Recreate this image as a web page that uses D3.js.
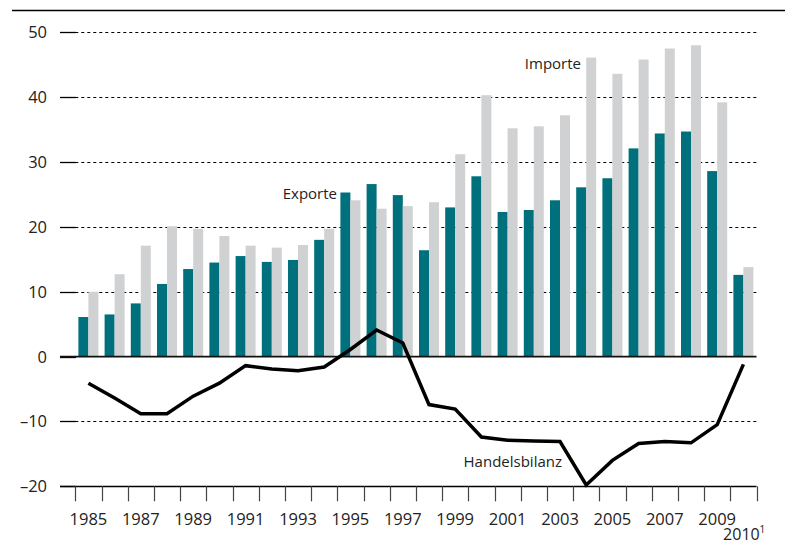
<!DOCTYPE html>
<html>
<head>
<meta charset="utf-8">
<script src="https://cdn.jsdelivr.net/npm/d3@7"></script>
<style>
  body { margin: 0; background: #fff; }
  text { font-family: "Open Sans", "Liberation Sans", sans-serif; fill: #222; }
</style>
</head>
<body>
<div id="chart"></div>
<script>
// data, Mrd.
var years = [1985, 1986, 1987, 1988, 1989, 1990, 1991, 1992, 1993, 1994, 1995, 1996, 1997,
             1998, 1999, 2000, 2001, 2002, 2003, 2004, 2005, 2006, 2007, 2008, 2009, 2010];
var exporte = [6.1, 6.5, 8.2, 11.2, 13.5, 14.5, 15.5, 14.6, 14.9, 18.0, 25.3, 26.6, 24.9,
               16.4, 23.0, 27.8, 22.3, 22.6, 24.1, 26.1, 27.5, 32.1, 34.4, 34.7, 28.6, 12.6];
var importe = [10.0, 12.7, 17.1, 20.1, 19.7, 18.6, 17.1, 16.8, 17.2, 19.7, 24.1, 22.8, 23.2,
               23.8, 31.2, 40.3, 35.2, 35.5, 37.2, 46.1, 43.6, 45.8, 47.5, 48.0, 39.2, 13.8];
var bilanz = [-4.1, -6.4, -8.8, -8.8, -6.1, -4.1, -1.4, -1.9, -2.2, -1.6, 1.1, 4.1, 2.1,
              -7.4, -8.1, -12.4, -12.9, -13.0, -13.1, -19.8, -16.0, -13.4, -13.1, -13.3, -10.5, -1.2];
var yTicks = [-20, -10, 0, 10, 20, 30, 40, 50];
var labelYears = [1985, 1987, 1989, 1991, 1993, 1995, 1997, 1999, 2001, 2003, 2005, 2007, 2009];

var width = 785, height = 545;

var svg = d3.select("#chart")
  .append("svg")
    .attr("width", width)
    .attr("height", height);

var x = d3.scaleBand()
  .domain(years)
  .range([75.3, 756.5])
  .padding(0);
var y = d3.scaleLinear()
  .domain([-20, 50])
  .range([486.3, 32.3]);

var barW = 10;

// top rule
svg.append("line")
  .attr("x1", 12).attr("x2", 785)
  .attr("y1", 10.5).attr("y2", 10.5)
  .attr("stroke", "#000").attr("stroke-width", 1.5);

// gridlines (dashed)
svg.append("g")
  .selectAll("line")
  .data(yTicks.filter(function(d) { return d != 0 && d != -20; }))
  .enter()
  .append("line")
    .attr("x1", x.range()[0]).attr("x2", x.range()[1])
    .attr("y1", function(d) { return Math.round(y(d)) + 0.5; })
    .attr("y2", function(d) { return Math.round(y(d)) + 0.5; })
    .attr("stroke", "#000")
    .attr("stroke-width", 1)
    .attr("stroke-dasharray", "3,3");

// y axis: short ticks on the left + labels
var yAxis = svg.append("g");
yAxis.selectAll("line")
  .data(yTicks)
  .enter()
  .append("line")
    .attr("x1", 60).attr("x2", 76)
    .attr("y1", function(d) { return Math.round(y(d)) + 0.5; })
    .attr("y2", function(d) { return Math.round(y(d)) + 0.5; })
    .attr("stroke", "#000")
    .attr("stroke-width", 1.3);
yAxis.selectAll("text")
  .data(yTicks)
  .enter()
  .append("text")
    .attr("x", 47)
    .attr("y", function(d) { return y(d); })
    .attr("dy", "0.36em")
    .attr("text-anchor", "end")
    .style("font-size", "16.5px")
    .text(function(d) { return d < 0 ? "\u2013" + Math.abs(d) : d; });

// bars
svg.append("g")
  .selectAll("rect")
  .data(years)
  .enter()
  .append("rect")
    .attr("x", function(d) { return x(d) + x.bandwidth() / 2 - barW; })
    .attr("y", function(d, i) { return y(exporte[i]); })
    .attr("width", barW)
    .attr("height", function(d, i) { return y(0) - y(exporte[i]); })
    .attr("fill", "#00717c");
svg.append("g")
  .selectAll("rect")
  .data(years)
  .enter()
  .append("rect")
    .attr("x", function(d) { return x(d) + x.bandwidth() / 2; })
    .attr("y", function(d, i) { return y(importe[i]); })
    .attr("width", barW)
    .attr("height", function(d, i) { return y(0) - y(importe[i]); })
    .attr("fill", "#d0d1d3");

// zero line
svg.append("line")
  .attr("x1", 60).attr("x2", x.range()[1])
  .attr("y1", y(0)).attr("y2", y(0))
  .attr("stroke", "#111").attr("stroke-width", 1.6);

// x axis baseline + ticks
svg.append("line")
  .attr("x1", 60).attr("x2", x.range()[1])
  .attr("y1", Math.round(y(-20)) + 0.5).attr("y2", Math.round(y(-20)) + 0.5)
  .attr("stroke", "#000").attr("stroke-width", 1.3);
var tickPos = years.map(function(d) { return x(d); }).concat([x.range()[1]]);
svg.append("g")
  .selectAll("line")
  .data(tickPos)
  .enter()
  .append("line")
    .attr("x1", function(d) { return Math.round(d) + 0.5; })
    .attr("x2", function(d) { return Math.round(d) + 0.5; })
    .attr("y1", y(-20)).attr("y2", y(-20) + 15)
    .attr("stroke", "#444").attr("stroke-width", 1.2);

svg.append("g")
  .selectAll("text")
  .data(labelYears)
  .enter()
  .append("text")
    .attr("x", function(d) { return x(d) + x.bandwidth() / 2; })
    .attr("y", 525)
    .attr("text-anchor", "middle")
    .style("font-size", "16.5px")
    .text(function(d) { return d; });

// last year sits one row lower, with a footnote mark
svg.append("text")
  .attr("x", x(2010) + x.bandwidth() / 2 - 2)
  .attr("y", 540)
  .attr("text-anchor", "middle")
  .style("font-size", "16px")
  .text("2010");
svg.append("text")
  .attr("x", x(2010) + x.bandwidth() / 2 + 16)
  .attr("y", 533)
  .style("font-size", "10px")
  .text("1");

// Handelsbilanz line
var line = d3.line()
  .x(function(d, i) { return x(years[i]) + x.bandwidth() / 2; })
  .y(function(d) { return y(d); });
svg.append("path")
  .datum(bilanz)
  .attr("d", line)
  .attr("fill", "none")
  .attr("stroke", "#000")
  .attr("stroke-width", 3.5)
  .attr("stroke-linejoin", "miter");

// series labels
svg.append("text")
  .attr("x", 337).attr("y", 194).attr("dy", "0.36em")
  .attr("text-anchor", "end")
  .style("font-size", "15px")
  .text("Exporte");
svg.append("text")
  .attr("x", 581).attr("y", 64).attr("dy", "0.36em")
  .attr("text-anchor", "end")
  .style("font-size", "15px")
  .text("Importe");
svg.append("text")
  .attr("x", 562).attr("y", 462).attr("dy", "0.36em")
  .attr("text-anchor", "end")
  .style("font-size", "15px")
  .text("Handelsbilanz");
</script>
</body>
</html>
